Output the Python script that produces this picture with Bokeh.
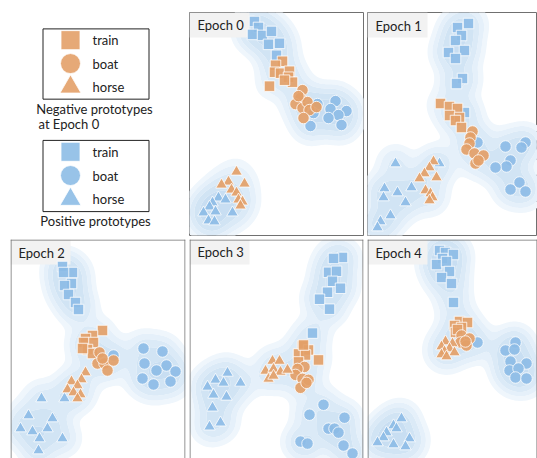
import numpy as np
from bokeh.plotting import figure
from bokeh.layouts import column, row
from bokeh.models import Range1d, Span
from bokeh.core.properties import value
from bokeh.embed import file_html
from bokeh.resources import INLINE

# ---------------------------------------------------------------- data
CLASSES = ["train", "boat", "horse"]
MARKERS = ["square", "circle", "triangle"]
EPOCHS = ["Epoch 0", "Epoch 1", "Epoch 2", "Epoch 3", "Epoch 4"]

# 2-D embedding of the prototypes, one list of (x, y) per class.
# POS = positive prototypes (blue), NEG = negative prototypes (orange).
E0_POS_TRAIN = [(254, 21), (258, 27), (252, 34), (262, 35), (271, 31), (268, 44), (279, 43), (276, 55)]
E0_POS_BOAT = [(317, 104), (335, 101), (330, 109), (346, 111), (338, 115), (328, 118), (341, 125), (310, 126), (313, 113)]
E0_POS_HORSE = [(218, 198), (225, 200), (212, 203), (209, 207), (215, 212), (203, 213), (232, 213), (208, 221), (214, 222)]
E0_NEG_TRAIN = [(282, 61), (275, 65), (274, 72), (280, 73), (289, 71), (288, 77), (292, 82), (284, 80), (269, 86)]
E0_NEG_BOAT = [(302, 90), (300, 98), (295, 104), (302, 108), (307, 102), (309, 110), (316, 107), (303, 118), (298, 96)]
E0_NEG_HORSE = [(236, 172), (228, 182), (221, 185), (244, 184), (231, 190), (236, 193), (238, 200), (242, 202), (240, 206)]

E1_POS_TRAIN = [(468, 23), (457, 27), (461, 35), (455, 40), (464, 50), (448, 52), (455, 58), (462, 78), (456, 83), (464, 112)]
E1_POS_BOAT = [(477, 142), (505, 146), (525, 142), (521, 147), (510, 160), (506, 166), (495, 167), (519, 182), (510, 189), (525, 191)]
E1_POS_HORSE = [(395, 163), (439, 163), (411, 187), (384, 188), (397, 192), (383, 197), (405, 202), (390, 215), (380, 221), (377, 227)]
E1_NEG_TRAIN = [(440, 103), (449, 106), (457, 108), (449, 115), (459, 117), (455, 120), (461, 127)]
E1_NEG_BOAT = [(472, 131), (470, 137), (469, 143), (466, 149), (474, 153), (483, 155), (475, 163), (478, 160)]
E1_NEG_HORSE = [(433, 161), (429, 167), (424, 173), (419, 178), (436, 177), (425, 190), (430, 193), (432, 197), (429, 200)]

E2_POS_TRAIN = [(62, 266), (72, 272), (63, 272), (71, 283), (64, 285), (68, 294), (75, 302), (78, 309)]
E2_POS_BOAT = [(113, 355), (143, 348), (162, 351), (144, 363), (166, 365), (156, 370), (175, 371), (142, 378), (170, 381), (153, 384)]
E2_POS_HORSE = [(41, 398), (64, 398), (28, 415), (52, 418), (47, 428), (20, 428), (32, 431), (39, 438), (62, 438), (38, 450)]
E2_NEG_TRAIN = [(102, 330), (92, 335), (85, 338), (93, 342), (83, 342), (87, 349), (92, 353), (82, 348)]
E2_NEG_BOAT = [(99, 352), (97, 363), (104, 363), (113, 360), (107, 370), (102, 358)]
E2_NEG_HORSE = [(85, 372), (71, 381), (81, 379), (77, 385), (67, 389), (73, 392), (80, 394), (77, 398)]

E3_POS_TRAIN = [(342, 256), (333, 257), (328, 271), (336, 270), (332, 280), (340, 287), (327, 291), (319, 298), (329, 308), (312, 332)]
E3_POS_BOAT = [(323, 404), (309, 414), (344, 417), (328, 428), (334, 428), (338, 432), (300, 441), (307, 443), (343, 445), (352, 453)]
E3_POS_HORSE = [(227, 372), (215, 379), (223, 382), (240, 382), (207, 386), (213, 394), (226, 396), (212, 407), (220, 422), (209, 426)]
E3_NEG_TRAIN = [(302, 345), (308, 349), (298, 353), (305, 354), (318, 359), (298, 361), (303, 344)]
E3_NEG_BOAT = [(304, 366), (297, 368), (295, 374), (302, 378), (308, 379), (300, 387), (306, 382)]
E3_NEG_HORSE = [(272, 360), (279, 360), (265, 370), (273, 368), (280, 371), (287, 369), (268, 378), (273, 375)]

E4_POS_TRAIN = [(439, 250), (445, 252), (453, 254), (442, 258), (436, 264), (446, 261), (449, 271), (441, 277), (451, 283), (453, 302)]
E4_POS_BOAT = [(477, 342), (515, 342), (505, 350), (514, 349), (510, 361), (526, 363), (509, 370), (518, 368), (515, 377), (526, 378)]
E4_POS_HORSE = [(401, 418), (393, 425), (396, 428), (386, 432), (409, 438), (383, 437), (377, 442), (393, 444), (405, 446)]
E4_NEG_TRAIN = [(459, 321), (467, 322), (454, 325), (461, 327), (455, 332), (457, 329)]
E4_NEG_BOAT = [(461, 335), (469, 338), (460, 342), (466, 345), (465, 341)]
E4_NEG_HORSE = [(445, 341), (452, 343), (441, 346), (449, 348), (444, 351), (454, 352), (441, 354), (446, 356)]

POS = [
    [E0_POS_TRAIN, E0_POS_BOAT, E0_POS_HORSE],
    [E1_POS_TRAIN, E1_POS_BOAT, E1_POS_HORSE],
    [E2_POS_TRAIN, E2_POS_BOAT, E2_POS_HORSE],
    [E3_POS_TRAIN, E3_POS_BOAT, E3_POS_HORSE],
    [E4_POS_TRAIN, E4_POS_BOAT, E4_POS_HORSE],
]
NEG = [
    [E0_NEG_TRAIN, E0_NEG_BOAT, E0_NEG_HORSE],
    [E1_NEG_TRAIN, E1_NEG_BOAT, E1_NEG_HORSE],
    [E2_NEG_TRAIN, E2_NEG_BOAT, E2_NEG_HORSE],
    [E3_NEG_TRAIN, E3_NEG_BOAT, E3_NEG_HORSE],
    [E4_NEG_TRAIN, E4_NEG_BOAT, E4_NEG_HORSE],
]

# ---------------------------------------------------------------- style
BLUE = "#8DBCE6"
ORANGE = "#E3A068"
FRAME = "#707070"
FONT = value("Lato")
DENSITY_COLORS = ["#EFF6FC", "#E5F0FA", "#DBEAF7", "#D1E4F4", "#C8DEF2"]
DENSITY_LEVELS = [0.18, 0.45, 0.9, 1.7, 3.0, 1e4]
MARKER_SIZE = {"square": 10.5, "circle": 11.5, "triangle": 11.5}

# panel frames in embedding units: (x0, x1, y_top, y_bottom), and figure borders (l, r, t, b)
FRAMES = [
    (189, 363, 12, 236), (367, 537, 12, 235),
    (10, 185, 239, 458), (189, 363, 238, 458), (367, 537, 239, 458),
]
BORDERS = [
    (0, 3, 12, 2), (1, 0, 12, 3),
    (10, 4, 1, 0), (0, 3, 0, 0), (1, 0, 1, 0),
]


def kde(points, weights, gx, gy, bw=10.5):
    X, Y = np.meshgrid(gx, gy)
    Z = np.zeros_like(X)
    for (px, py), w in zip(points, weights):
        Z += w * np.exp(-((X - px) ** 2 + (Y - py) ** 2) / (2 * bw * bw))
    return Z


def panel(i):
    x0, x1, yt, yb = FRAMES[i]
    bl, br, bt, bb = BORDERS[i]
    closed = i < 2
    p = figure(width=int(x1 - x0) + bl + br, height=int(yb - yt) + bt + bb,
               x_range=Range1d(x0, x1), y_range=Range1d(yb, yt),
               output_backend="svg", toolbar_location=None,
               min_border_left=bl, min_border_right=br,
               min_border_top=bt, min_border_bottom=bb)
    p.axis.visible = False
    p.grid.visible = False
    p.background_fill_color = "white"
    p.border_fill_color = "white"
    if closed:
        p.outline_line_color = FRAME
        p.outline_line_width = 1
    else:
        p.outline_line_color = None
        for loc, dim in [(x0 + 0.5, "height"), (x1 - 0.5, "height"), (yt + 0.5, "width")]:
            p.add_layout(Span(location=loc, dimension=dim, line_color=FRAME, line_width=1))

    # density of the embedded prototypes
    pts, wts = [], []
    for cls in POS[i]:
        pts += cls
        wts += [1.0] * len(cls)
    for cls in NEG[i]:
        pts += cls
        wts += [0.3] * len(cls)
    gx = np.arange(x0 - 3, x1 + 3, 1.5)
    gy = np.arange(yt - 3, yb + 3, 1.5)
    Z = kde(pts, wts, gx, gy)
    p.contour(gx, gy, Z, DENSITY_LEVELS, fill_color=DENSITY_COLORS, line_color=None)

    # epoch tag
    p.quad(left=[x0], right=[x0 + 60], top=[yt], bottom=[yt + 25],
           fill_color="#F2F2F2", line_color=None)
    p.text(x=[x0 + 8], y=[yt + 13], text=[EPOCHS[i]], text_font=FONT,
           text_font_size="13px", text_color="#222222", text_baseline="middle")

    for group, color in [(POS[i], BLUE), (NEG[i], ORANGE)]:
        for cls, marker in zip(group, MARKERS):
            xs = [q[0] for q in cls]
            ys = [q[1] for q in cls]
            p.scatter(xs, ys, marker=marker, size=MARKER_SIZE[marker],
                      fill_color=color, fill_alpha=0.92,
                      line_color="white", line_width=0.8)
    return p


def legend_fig():
    p = figure(width=189, height=238, x_range=Range1d(0, 189), y_range=Range1d(238, 0),
               output_backend="svg", toolbar_location=None,
               min_border_left=0, min_border_right=0, min_border_top=0, min_border_bottom=0)
    p.axis.visible = False
    p.grid.visible = False
    p.outline_line_color = None
    boxes = [(17, 92, ORANGE), (136, 212, BLUE)]
    for top, bottom, color in boxes:
        p.quad(left=[42.5], right=[148.5], top=[top + 0.5], bottom=[bottom + 0.5],
               fill_color=None, line_color="#222222", line_width=1)
        step = (bottom - top) / 3
        ys = [top + step * (k + 0.5) for k in range(3)]
        for cls, marker, y in zip(CLASSES, MARKERS, ys):
            size = {"square": 19, "circle": 20, "triangle": 21}[marker]
            p.scatter([70], [y], marker=marker, size=size, fill_color=color,
                      fill_alpha=0.9, line_color="white", line_width=0.8)
            p.text(x=[92], y=[y], text=[cls], text_font=FONT, text_font_size="13px",
                   text_color="#222222", text_baseline="middle")
    p.text(x=[94], y=[103], text=["Negative prototypes"], text_font=FONT,
           text_font_size="13px", text_color="#222222", text_baseline="middle", text_align="center")
    p.text(x=[38], y=[119], text=["at Epoch 0"], text_font=FONT,
           text_font_size="13px", text_color="#222222", text_baseline="middle")
    p.text(x=[95], y=[222], text=["Positive prototypes"], text_font=FONT,
           text_font_size="13px", text_color="#222222", text_baseline="middle", text_align="center")
    return p


top = row(legend_fig(), panel(0), panel(1), spacing=0)
bottom = row(panel(2), panel(3), panel(4), spacing=0)
layout = column(top, bottom, spacing=0)

open("out.html", "w").write(file_html(layout, INLINE))
